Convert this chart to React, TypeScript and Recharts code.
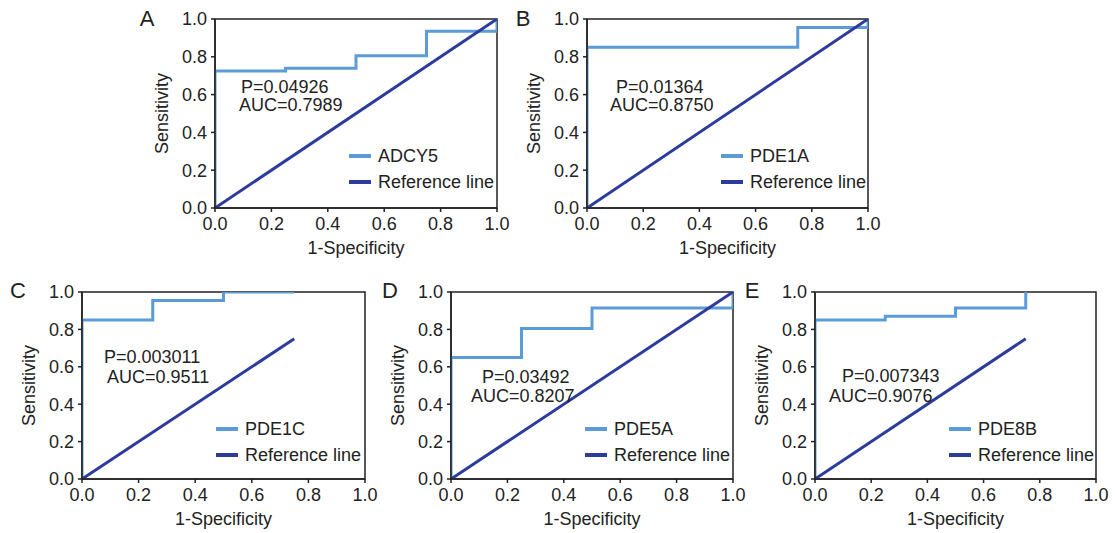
import React from "react";
import {
  LineChart,
  Line,
  XAxis,
  YAxis,
  ReferenceArea,
  Legend,
} from "recharts";

// ROC steps (x = 1-specificity, y = sensitivity)
const adcy5Fpr = [0, 0, 0.25, 0.25, 0.5, 0.5, 0.75, 0.75, 1, 1];
const adcy5Tpr = [0, 0.725, 0.725, 0.74, 0.74, 0.805, 0.805, 0.935, 0.935, 1];

const pde1aFpr = [0, 0, 0.75, 0.75, 1, 1];
const pde1aTpr = [0, 0.85, 0.85, 0.955, 0.955, 1];

const pde1cFpr = [0, 0, 0.25, 0.25, 0.5, 0.5, 0.75];
const pde1cTpr = [0, 0.85, 0.85, 0.955, 0.955, 1, 1];

const pde5aFpr = [0, 0, 0.25, 0.25, 0.5, 0.5, 1, 1];
const pde5aTpr = [0, 0.65, 0.65, 0.805, 0.805, 0.915, 0.915, 1];

const pde8bFpr = [0, 0, 0.25, 0.25, 0.5, 0.5, 0.75, 0.75];
const pde8bTpr = [0, 0.85, 0.85, 0.87, 0.87, 0.915, 0.915, 1];

const refFull = [0, 1];
const refShort = [0, 0.75];

const TICKS = [0, 0.2, 0.4, 0.6, 0.8, 1.0];

const LIGHT = "#5b9bd8";
const DARK = "#2c3b9c";
const INK = "#222";
const FONT = '"Liberation Sans", Arial, sans-serif';
const FS = 18;

const toPts = (xs: number[], ys: number[]) => xs.map((x, i) => ({ x, y: ys[i] }));

const ML = 70; // space left of plot
const MT = 12; // space above plot
const MR = 14;
const MB = 52;

type PanelProps = {
  letter: string;
  gene: string;
  fpr: number[];
  tpr: number[];
  ref: number[];
  p: string;
  auc: string;
  plotLeft: number;
  plotTop: number;
  plotW: number;
  plotH: number;
  letterX: number;
  letterY: number;
  pPos: [number, number];
  aucPos: [number, number];
};

function RocPanel(props: PanelProps) {
  const { plotLeft, plotTop, plotW, plotH } = props;
  const W = plotW + ML + MR;
  const H = plotH + MT + MB;
  const geneData = toPts(props.fpr, props.tpr);
  const refData = toPts(props.ref, props.ref);

  const legendContent = (lp: any) => (
    <div style={{ fontFamily: FONT, fontSize: FS, color: INK }}>
      {(lp.payload || []).map((e: any, i: number) => (
        <div key={i} style={{ display: "flex", alignItems: "center", height: 26, whiteSpace: "nowrap" }}>
          <span
            style={{
              display: "inline-block",
              width: 22,
              height: 3.5,
              background: e.color,
              marginRight: 7,
            }}
          />
          <span>{e.value}</span>
        </div>
      ))}
    </div>
  );

  const textStyle: React.CSSProperties = {
    position: "absolute",
    transform: "translateY(-50%)",
    fontFamily: FONT,
    fontSize: FS,
    color: INK,
    lineHeight: 1,
    whiteSpace: "nowrap",
  };

  return (
    <div
      style={{
        position: "absolute",
        left: plotLeft - ML,
        top: plotTop - MT,
        width: W,
        height: H,
      }}
    >
      <LineChart width={W} height={H} margin={{ top: MT, right: MR, left: 0, bottom: 0 }}>
        <XAxis
          type="number"
          dataKey="x"
          domain={[0, 1]}
          ticks={TICKS}
          allowDataOverflow
          tickFormatter={(v: number) => v.toFixed(1)}
          height={MB}
          tickSize={4}
          tickMargin={5}
          axisLine={{ stroke: INK, strokeWidth: 1.5 }}
          tickLine={{ stroke: INK, strokeWidth: 1.5 }}
          tick={{ fill: INK, fontSize: FS, fontFamily: FONT }}
          label={{
            content: () => (
              <text
                x={ML + plotW / 2}
                y={MT + plotH + 40}
                textAnchor="middle"
                dominantBaseline="central"
                fill={INK}
                fontSize={FS}
                fontFamily={FONT}
              >
                1-Specificity
              </text>
            ),
          }}
        />
        <YAxis
          type="number"
          dataKey="y"
          domain={[0, 1]}
          ticks={TICKS}
          allowDataOverflow
          tickFormatter={(v: number) => v.toFixed(1)}
          width={ML}
          tickSize={4}
          tickMargin={4}
          axisLine={{ stroke: INK, strokeWidth: 1.5 }}
          tickLine={{ stroke: INK, strokeWidth: 1.5 }}
          tick={{ fill: INK, fontSize: FS, fontFamily: FONT }}
          label={{
            content: () => (
              <text
                x={ML - 53}
                y={MT + plotH / 2}
                textAnchor="middle"
                dominantBaseline="central"
                fill={INK}
                fontSize={FS}
                fontFamily={FONT}
                transform={`rotate(-90 ${ML - 53} ${MT + plotH / 2})`}
              >
                Sensitivity
              </text>
            ),
          }}
        />
        <ReferenceArea
          x1={0}
          x2={1}
          y1={0}
          y2={1}
          fill="none"
          fillOpacity={0}
          stroke={INK}
          strokeWidth={1.5}
          ifOverflow="visible"
        />
        <Line
          data={geneData}
          dataKey="y"
          name={props.gene}
          type="linear"
          stroke={LIGHT}
          strokeWidth={3}
          dot={false}
          isAnimationActive={false}
        />
        <Line
          data={refData}
          dataKey="y"
          name="Reference line"
          type="linear"
          stroke={DARK}
          strokeWidth={3}
          dot={false}
          isAnimationActive={false}
        />
        <Legend
          layout="vertical"
          align="center"
          verticalAlign="middle"
          content={legendContent}
          wrapperStyle={{ left: ML + 134, top: MT + 124, width: 160 }}
        />
      </LineChart>
      <div
        style={{
          position: "absolute",
          left: props.letterX - (plotLeft - ML),
          top: props.letterY - (plotTop - MT),
          transform: "translate(-50%, -50%)",
          fontFamily: FONT,
          fontSize: 22,
          color: INK,
          lineHeight: 1,
        }}
      >
        {props.letter}
      </div>
      <div style={{ ...textStyle, left: ML + props.pPos[0], top: MT + props.pPos[1] }}>
        {props.p}
      </div>
      <div style={{ ...textStyle, left: ML + props.aucPos[0], top: MT + props.aucPos[1] }}>
        {props.auc}
      </div>
    </div>
  );
}

export default function App() {
  return (
    <div
      style={{
        position: "absolute",
        left: 0,
        top: 0,
        width: 1115,
        height: 533,
        background: "#fff",
        overflow: "hidden",
      }}
    >
      <RocPanel
        letter="A"
        gene="ADCY5"
        fpr={adcy5Fpr}
        tpr={adcy5Tpr}
        ref={refFull}
        p="P=0.04926"
        auc="AUC=0.7989"
        plotLeft={215}
        plotTop={19}
        plotW={282}
        plotH={189}
        letterX={147}
        letterY={19}
        pPos={[26, 68]}
        aucPos={[24, 86]}
      />
      <RocPanel
        letter="B"
        gene="PDE1A"
        fpr={pde1aFpr}
        tpr={pde1aTpr}
        ref={refFull}
        p="P=0.01364"
        auc="AUC=0.8750"
        plotLeft={587}
        plotTop={19}
        plotW={281}
        plotH={189}
        letterX={523}
        letterY={19}
        pPos={[29, 68]}
        aucPos={[23, 86]}
      />
      <RocPanel
        letter="C"
        gene="PDE1C"
        fpr={pde1cFpr}
        tpr={pde1cTpr}
        ref={refShort}
        p="P=0.003011"
        auc="AUC=0.9511"
        plotLeft={82}
        plotTop={292}
        plotW={283}
        plotH={187}
        letterX={18}
        letterY={291}
        pPos={[22, 65]}
        aucPos={[25, 85]}
      />
      <RocPanel
        letter="D"
        gene="PDE5A"
        fpr={pde5aFpr}
        tpr={pde5aTpr}
        ref={refFull}
        p="P=0.03492"
        auc="AUC=0.8207"
        plotLeft={451}
        plotTop={292}
        plotW={282}
        plotH={187}
        letterX={390}
        letterY={291}
        pPos={[31, 85]}
        aucPos={[20, 104]}
      />
      <RocPanel
        letter="E"
        gene="PDE8B"
        fpr={pde8bFpr}
        tpr={pde8bTpr}
        ref={refShort}
        p="P=0.007343"
        auc="AUC=0.9076"
        plotLeft={815}
        plotTop={292}
        plotW={281}
        plotH={187}
        letterX={752}
        letterY={291}
        pPos={[27, 84]}
        aucPos={[14, 104]}
      />
    </div>
  );
}
